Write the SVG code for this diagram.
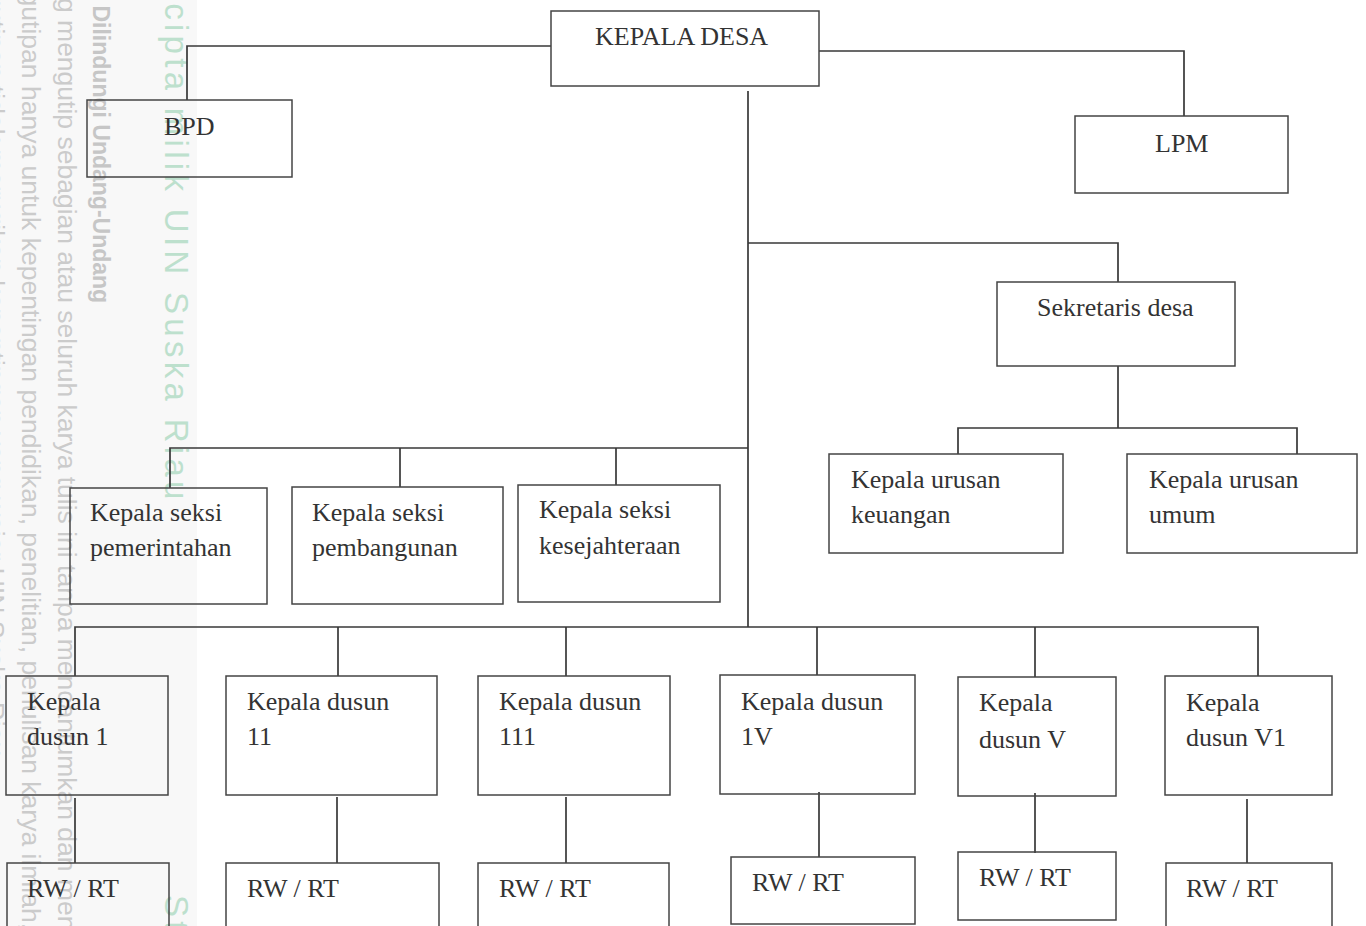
<svg xmlns="http://www.w3.org/2000/svg" width="1366" height="926" viewBox="0 0 1366 926">
<style>
.box{fill:none;stroke:#444;stroke-width:1.5}
.ln{fill:none;stroke:#383838;stroke-width:1.7}
.t{font-family:"Liberation Serif","Times New Roman",serif;font-size:26px;fill:#333}
.wm{font-family:"Liberation Sans",Arial,sans-serif;font-size:26.5px;fill:#cbcbcb}
.wmb{font-family:"Liberation Sans",Arial,sans-serif;font-size:23px;font-weight:bold;fill:#c6c6c6}
.wmg{font-family:"Liberation Sans",Arial,sans-serif;font-size:33px;fill:#bde0cd;letter-spacing:4.3px}
</style>
<rect width="1366" height="926" fill="#ffffff"/>
<g id="watermark">
<rect x="0" y="0" width="197" height="926" fill="#f8f8f8"/>
<text class="wm" transform="translate(-14,-85) rotate(90)">b. Pengutipan tidak merugikan kepentingan yang wajar UIN Suska Riau.</text>
<text class="wm" transform="translate(22,-85) rotate(90)">a. Pengutipan hanya untuk kepentingan pendidikan, penelitian, penulisan karya ilmiah, penyusunan laporan</text>
<text class="wm" transform="translate(58,-86) rotate(90)">Dilarang mengutip sebagian atau seluruh karya tulis ini tanpa mencantumkan dan menyebutkan sumber</text>
<text class="wmb" transform="translate(93,-107) rotate(90)">Hak Cipta Dilindungi Undang-Undang</text>
<text class="wmg" transform="translate(165,-124) rotate(90)">© Hak cipta milik UIN Suska Riau</text>
<text class="wmg" transform="translate(165,895) rotate(90)">State Islamic University of Sultan Syarif Kasim Riau</text>
</g>
<g id="connectors">
<path class="ln" d="M551 46 H187 V100"/>
<path class="ln" d="M819 51 H1184 V116"/>
<path class="ln" d="M748 91 V627"/>
<path class="ln" d="M748 243 H1118 V282"/>
<path class="ln" d="M1118 366 V428"/>
<path class="ln" d="M958 454 V428 H1297 V454"/>
<path class="ln" d="M748 448 H170 V488"/>
<path class="ln" d="M400 448 V487"/>
<path class="ln" d="M616 448 V485"/>
<path class="ln" d="M75 676 V627 H1258 V676"/>
<path class="ln" d="M338 627 V676"/>
<path class="ln" d="M566 627 V676"/>
<path class="ln" d="M817 627 V675"/>
<path class="ln" d="M1035 627 V677"/>
<path class="ln" d="M75 798 V863"/>
<path class="ln" d="M337 797 V863"/>
<path class="ln" d="M566 797 V863"/>
<path class="ln" d="M819 792 V857"/>
<path class="ln" d="M1035 793 V853"/>
<path class="ln" d="M1247 799 V863"/>
</g>
<g id="kepala-desa"><rect class="box" x="551" y="11" width="268" height="75"/><text class="t" x="595" y="45">KEPALA DESA</text></g>
<g id="bpd"><rect class="box" x="87" y="100" width="205" height="77"/><text class="t" x="164" y="135">BPD</text></g>
<g id="lpm"><rect class="box" x="1075" y="116" width="213" height="77"/><text class="t" x="1155" y="152">LPM</text></g>
<g id="sekretaris"><rect class="box" x="997" y="282" width="238" height="84"/><text class="t" x="1037" y="316">Sekretaris desa</text></g>
<g id="kaur-keuangan"><rect class="box" x="829" y="454" width="234" height="99"/><text class="t" x="851" y="488">Kepala urusan</text><text class="t" x="851" y="523">keuangan</text></g>
<g id="kaur-umum"><rect class="box" x="1127" y="454" width="230" height="99"/><text class="t" x="1149" y="488">Kepala urusan</text><text class="t" x="1149" y="523">umum</text></g>
<g id="kasi-pemerintahan"><rect class="box" x="70" y="488" width="197" height="116"/><text class="t" x="90" y="521">Kepala seksi</text><text class="t" x="90" y="556">pemerintahan</text></g>
<g id="kasi-pembangunan"><rect class="box" x="292" y="487" width="211" height="117"/><text class="t" x="312" y="521">Kepala seksi</text><text class="t" x="312" y="556">pembangunan</text></g>
<g id="kasi-kesejahteraan"><rect class="box" x="518" y="485" width="202" height="117"/><text class="t" x="539" y="518">Kepala seksi</text><text class="t" x="539" y="554">kesejahteraan</text></g>
<g id="dusun-1"><rect class="box" x="6" y="676" width="162" height="119"/><text class="t" x="27" y="710">Kepala</text><text class="t" x="27" y="745">dusun 1</text></g>
<g id="dusun-11"><rect class="box" x="226" y="676" width="211" height="119"/><text class="t" x="247" y="710">Kepala dusun</text><text class="t" x="247" y="745">11</text></g>
<g id="dusun-111"><rect class="box" x="478" y="676" width="192" height="119"/><text class="t" x="499" y="710">Kepala dusun</text><text class="t" x="499" y="745">111</text></g>
<g id="dusun-1v"><rect class="box" x="720" y="675" width="195" height="119"/><text class="t" x="741" y="710">Kepala dusun</text><text class="t" x="741" y="745">1V</text></g>
<g id="dusun-v"><rect class="box" x="958" y="677" width="158" height="119"/><text class="t" x="979" y="711">Kepala</text><text class="t" x="979" y="748">dusun V</text></g>
<g id="dusun-v1"><rect class="box" x="1165" y="676" width="167" height="119"/><text class="t" x="1186" y="711">Kepala</text><text class="t" x="1186" y="746">dusun V1</text></g>
<g id="rwrt-1"><rect class="box" x="7" y="863" width="162" height="80"/><text class="t" x="27" y="897">RW / RT</text></g>
<g id="rwrt-2"><rect class="box" x="226" y="863" width="213" height="80"/><text class="t" x="247" y="897">RW / RT</text></g>
<g id="rwrt-3"><rect class="box" x="478" y="863" width="191" height="80"/><text class="t" x="499" y="897">RW / RT</text></g>
<g id="rwrt-4"><rect class="box" x="731" y="857" width="184" height="67"/><text class="t" x="752" y="891">RW / RT</text></g>
<g id="rwrt-5"><rect class="box" x="958" y="852" width="158" height="68"/><text class="t" x="979" y="886">RW / RT</text></g>
<g id="rwrt-6"><rect class="box" x="1166" y="863" width="166" height="80"/><text class="t" x="1186" y="897">RW / RT</text></g>
</svg>
